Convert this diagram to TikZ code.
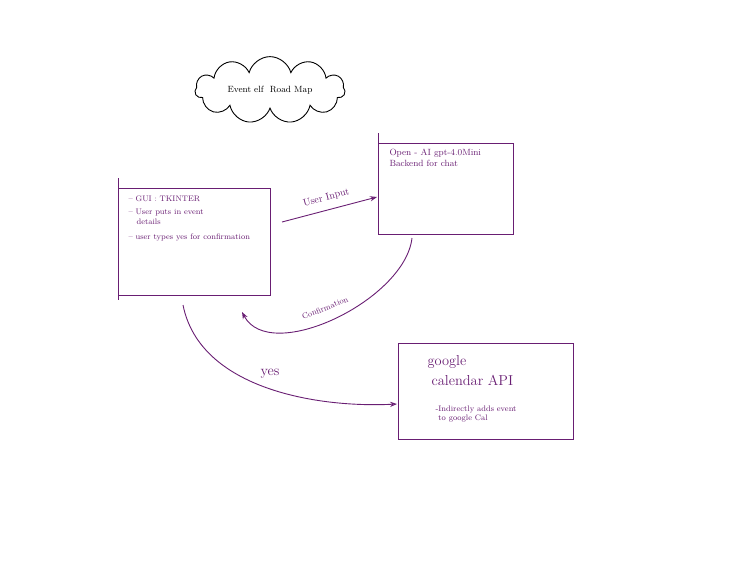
\documentclass[tikz,border=0pt]{standalone}
\usetikzlibrary{shapes.symbols,arrows.meta}
\begin{document}
\begin{tikzpicture}[x=1pt,y=-1pt,
  pen/.style={draw=pur,line width=0.9pt},
  lbl/.style={text=pur,font=\small,align=left,anchor=north west},
  conn/.style={pen,-{Stealth[open,length=7pt]}}]
\definecolor{pur}{RGB}{105,30,115}
\useasboundingbox (0,0) rectangle (741,573);
\node[cloud,cloud puffs=11,aspect=3.2,draw=black,line width=0.9pt,minimum width=150pt,minimum height=48pt,font=\small] (title) at (270,90) {Event elf \ Road Map};
\node[pen,minimum width=152pt,minimum height=107pt] (gui) at (194,241.5) {};
\draw[pen] (118,178) -- (118,300);
\node[lbl,font=\footnotesize] (guit) at (125,192) {-- GUI : TKINTER\\[4pt] -- User puts in event\\ \quad details\\[6pt] -- user types yes for confirmation};
\node[pen,minimum width=135pt,minimum height=91pt] (ai) at (445.5,188.5) {};
\draw[pen] (378,133) -- (378,234);
\node[lbl] (ait) at (386,146) {Open - AI gpt-4.0Mini\\ Backend for chat};
\node[pen,minimum width=175pt,minimum height=96pt] (gc) at (485.5,391) {};
\node[lbl,font=\Large] (gct) at (424,352) {google\\[2pt] \;calendar API};
\node[lbl,font=\footnotesize] (gcs) at (432,402) {-Indirectly adds event\\ \ to google Cal};
\coordinate (a1) at (282,222); \coordinate (a2) at (377,197);
\draw[conn] (a1) -- (a2) node[midway,above=4pt,sloped,text=pur] {User Input};
\coordinate (c1) at (412,238); \coordinate (c2) at (242,312);
\draw[conn] (c1) .. controls (405,300) and (270,365) .. (c2);
\node[text=pur,font=\footnotesize,rotate=22] (cl) at (325,308) {Confirmation};
\coordinate (y1) at (183,305); \coordinate (y2) at (397,404);
\draw[conn] (y1) .. controls (200,390) and (320,408) .. (y2);
\node[text=pur,font=\Large] (yl) at (270,374) {yes};
\end{tikzpicture}
\end{document}
